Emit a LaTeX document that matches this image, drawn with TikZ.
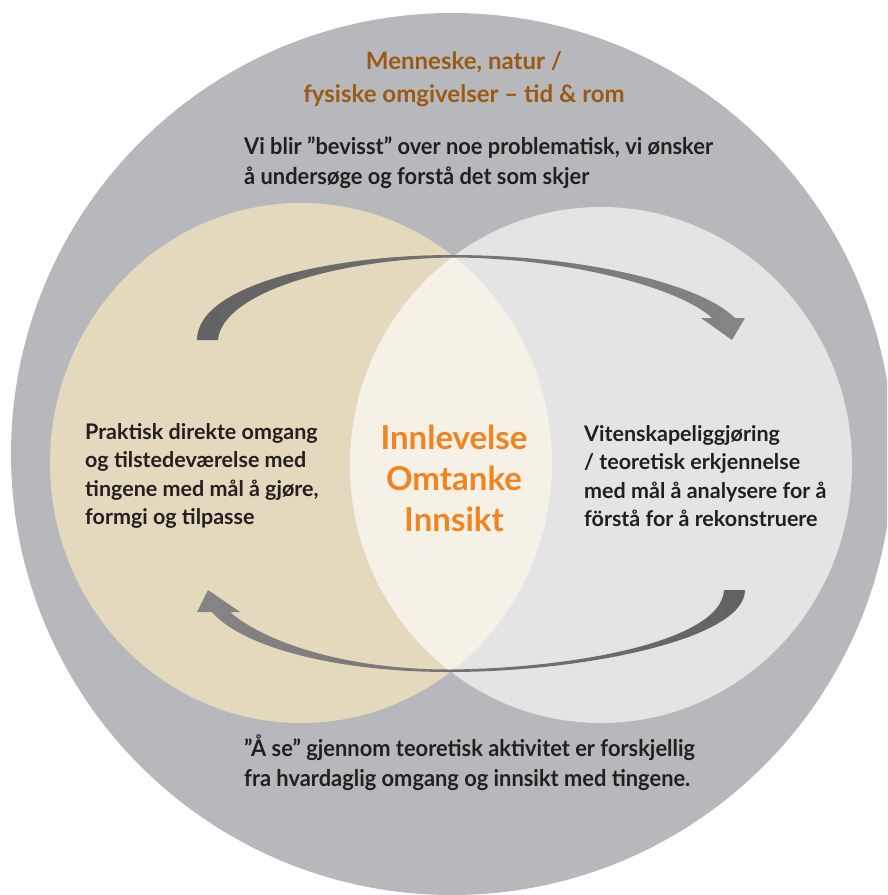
\documentclass[tikz,border=0pt]{standalone}
\usepackage{fontspec}
\setmainfont{Lato}
\newfontfamily\condfont{Lato}[FakeStretch=0.95]
\definecolor{outergrey}{HTML}{B7B8BC}
\definecolor{tanc}{HTML}{E4D9BC}
\definecolor{lightc}{HTML}{E4E4E4}
\definecolor{lensc}{HTML}{F5F1E6}
\definecolor{orangec}{HTML}{F08421}
\definecolor{brownc}{HTML}{9B5A14}
\definecolor{textc}{HTML}{231F20}
\definecolor{arrowdark}{HTML}{626262}
\definecolor{arrowlight}{HTML}{858585}
\tikzset{
  sidetext/.style={inner sep=0pt, align=left, text=textc, font=\fontsize{21.5}{28.6}\selectfont\bfseries},
  toptext/.style={inner sep=0pt, align=left, text=textc, font=\condfont\fontsize{23}{30}\selectfont\bfseries},
  titletext/.style={inner sep=0pt, align=center, text=brownc, font=\fontsize{24}{33}\selectfont\bfseries},
  centertext/.style={inner sep=0pt, align=center, text=orangec, font=\fontsize{33}{41}\selectfont\bfseries},
}
\begin{document}
\begin{tikzpicture}[x=1pt,y=-1pt]
\useasboundingbox (0,0) rectangle (887,895);
\clip (0,0) rectangle (887,895);
% circles
\fill[outergrey] (452,454) circle (441);
\fill[tanc] (301,463) ellipse [x radius=251, y radius=260];
\fill[lightc] (601,465) ellipse [x radius=251, y radius=258];
\begin{scope}
  \clip (301,463) ellipse [x radius=251, y radius=260];
  \fill[lensc] (601,465) ellipse [x radius=251, y radius=258];
\end{scope}
% upper arrow
\shade[left color=arrowdark, right color=arrowlight]
  (197,340) .. controls (197,285) and (330,255) .. (452,255)
  .. controls (580,255) and (700,283) .. (735,318)
  -- (745,318) -- (732,340) -- (701,318) -- (712,318)
  .. controls (680,288) and (570,258) .. (452,257.5)
  .. controls (340,259) and (222,292) .. (218,340) -- cycle;
% lower arrow
\shade[left color=arrowlight, right color=arrowdark]
  (745,590) .. controls (745,640) and (580,672) .. (450,672)
  .. controls (330,672) and (240,645) .. (212,612)
  -- (197,612) -- (208,590) -- (240,612) -- (230,612)
  .. controls (262,640) and (340,669.5) .. (450,669.5)
  .. controls (580,668) and (722,640) .. (724,590) -- cycle;
% texts
\node[titletext] (title) at (464,79) {Menneske, natur /\\fysiske omgivelser – tid \& rom};
\node[toptext, anchor=west] (top) at (244,163) {Vi blir ”bevisst” over noe problematisk, vi ønsker\\å undersøge og forstå det som skjer};
\node[sidetext, anchor=west] (left) at (85,476) {Praktisk direkte omgang\\og tilstedeværelse med\\tingene med mål å gjøre,\\formgi og tilpasse};
\node[sidetext, anchor=west] (right) at (584,476) {Vitenskapeliggjøring\\/ teoretisk erkjennelse\\med mål å analysere for å\\förstå for å rekonstruere};
\node[centertext] (center) at (454,478) {Innlevelse\\Omtanke\\Innsikt};
\node[toptext, anchor=west] (bottom) at (244,763) {”Å se” gjennom teoretisk aktivitet er forskjellig\\fra hvardaglig omgang og innsikt med tingene.};
\end{tikzpicture}
\end{document}
